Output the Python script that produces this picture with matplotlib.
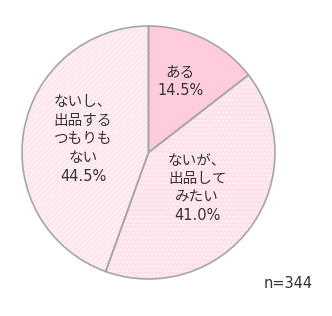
import matplotlib
matplotlib.use("Agg")
import matplotlib.pyplot as plt

plt.rcParams['font.family'] = ['DejaVu Sans', 'Noto Sans CJK JP']

labels = ["ある", "ないが、\n出品して\nみたい", "ないし、\n出品する\nつもりも\nない"]
values = [14.5, 41.0, 44.5]
n_total = 344

face = ["#ffccdc", "#ffe1eb", "#ffe4ed"]
hatches = [None, "....", "//////"]

fig = plt.figure(figsize=(3.32, 3.16), dpi=100)
cx, cy, r = 148.5, 316 - 152.5, 126.5
ax = fig.add_axes([(cx - r) / 332, (cy - r) / 316, 2 * r / 332, 2 * r / 316])

plt.rcParams['hatch.linewidth'] = 0.6
wedges, _ = ax.pie(values, startangle=90, counterclock=False, radius=1,
                   colors=face, wedgeprops=dict(linewidth=0, edgecolor="white"))
for w, h in zip(wedges, hatches):
    if h:
        w.set_hatch(h)
# outlines on top
ax.pie(values, startangle=90, counterclock=False, radius=1,
       wedgeprops=dict(fill=False, linewidth=1.2, edgecolor="#a6a6a6"))

pos = [(0.25, 0.56), (0.385, -0.28), (-0.518, 0.107)]
for lab, v, (x, y) in zip(labels, values, pos):
    ax.text(x, y, f"{lab}\n{v:.1f}%", ha="center", va="center",
            fontsize=10.5, linespacing=1.3, color="#333333")

ax.set_xlim(-1, 1)
ax.set_ylim(-1, 1)
ax.set_aspect("equal")
ax.axis("off")

fig.text(313 / 332, 1 - 283 / 316, f"n={n_total}", ha="right", va="center",
         fontsize=10.5, color="#333333")

fig.savefig("out.png", dpi=100)
